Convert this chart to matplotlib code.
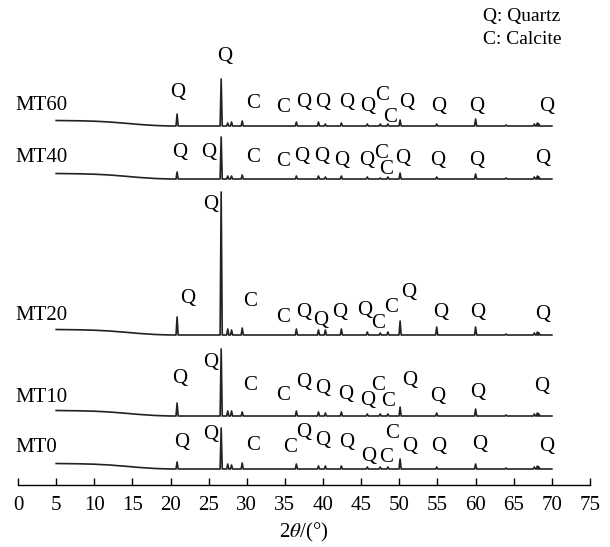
import numpy as np
import matplotlib
matplotlib.use('Agg')
import matplotlib.pyplot as plt

plt.rcParams['font.family'] = ['Liberation Serif', 'DejaVu Serif']
plt.rcParams['mathtext.fontset'] = 'stix'

samples = ['MT0', 'MT10', 'MT20', 'MT40', 'MT60']
offsets = [16, 69, 150, 306, 359]

# peak positions (2theta, deg) and heights
peak_pos = [20.86, 26.64, 27.5, 28.0, 29.4, 36.5, 39.4, 40.3, 42.4, 45.8,
            47.5, 48.5, 50.1, 54.9, 60.0, 64.0, 67.7, 68.1, 68.3]
heights = {
    'MT0':  [7, 41, 5, 4, 6, 5, 3, 3, 3, 2, 2, 2, 10, 2, 5, 1, 2, 3, 2],
    'MT10': [13, 67, 5, 5, 4, 5, 4, 3, 4, 2, 2, 2, 9, 3, 7, 1, 2, 3, 2],
    'MT20': [18, 143, 6, 5, 7, 6, 5, 5, 6, 3, 2, 3, 14, 8, 8, 1, 2, 3, 2],
    'MT40': [7, 42, 3, 3, 4, 3, 3, 2, 3, 2, 1, 2, 6, 2, 5, 1, 2, 3, 2],
    'MT60': [12, 47, 3, 4, 5, 4, 4, 2, 3, 2, 2, 2, 6, 2, 7, 1, 2, 3, 2],
}
# amorphous background at low angle
bg_x = [5, 8, 10, 12, 14, 16, 18, 20]
bg_y = [5.5, 5.2, 4.8, 4.0, 2.8, 1.5, 0.5, 0]

# phase labels: (2theta position, height on chart, letter)
phase_labels = {
    'MT0': [(21.5, 43, 'Q'), (25.3, 50, 'Q'), (30.8, 40, 'C'), (35.7, 37, 'C'),
            (37.4, 52, 'Q'), (39.9, 45, 'Q'), (43.1, 43, 'Q'), (46.0, 29, 'Q'),
            (48.2, 28, 'C'), (49.0, 52, 'C'), (51.4, 39, 'Q'), (55.2, 39, 'Q'),
            (60.5, 41, 'Q'), (69.3, 39, 'Q')],
    'MT10': [(21.2, 107, 'Q'), (25.2, 123, 'Q'), (30.4, 100, 'C'), (34.8, 89, 'C'),
             (37.4, 102, 'Q'), (40.0, 97, 'Q'), (43.0, 90, 'Q'), (45.8, 85, 'Q'),
             (47.2, 100, 'C'), (48.5, 84, 'C'), (51.4, 105, 'Q'), (55.0, 89, 'Q'),
             (60.3, 92, 'Q'), (68.7, 99, 'Q')],
    'MT20': [(22.2, 187, 'Q'), (25.2, 280, 'Q'), (30.4, 183, 'C'), (34.7, 167, 'C'),
             (37.5, 173, 'Q'), (39.7, 165, 'Q'), (42.2, 173, 'Q'), (45.5, 175, 'Q'),
             (47.2, 162, 'C'), (48.9, 178, 'C'), (51.2, 193, 'Q'), (55.4, 172, 'Q'),
             (60.3, 172, 'Q'), (68.8, 170, 'Q')],
    'MT40': [(21.2, 332, 'Q'), (25.0, 332, 'Q'), (30.8, 327, 'C'), (34.7, 324, 'C'),
             (37.2, 328, 'Q'), (39.8, 328, 'Q'), (42.5, 325, 'Q'), (45.7, 325, 'Q'),
             (47.6, 332, 'C'), (48.3, 315, 'C'), (50.5, 327, 'Q'), (55.0, 325, 'Q'),
             (60.2, 325, 'Q'), (68.8, 327, 'Q')],
    'MT60': [(21.0, 393, 'Q'), (27.1, 429, 'Q'), (30.8, 382, 'C'), (34.7, 378, 'C'),
             (37.5, 382, 'Q'), (40.0, 382, 'Q'), (43.1, 382, 'Q'), (45.8, 379, 'Q'),
             (47.8, 390, 'C'), (48.8, 368, 'C'), (51.0, 382, 'Q'), (55.1, 379, 'Q'),
             (60.2, 379, 'Q'), (69.3, 379, 'Q')],
}
name_y = {'MT0': 38, 'MT10': 88, 'MT20': 170, 'MT40': 327, 'MT60': 379}

fig = plt.figure(figsize=(6.1, 5.47), dpi=100)
ax = fig.add_axes([18 / 610, 62 / 547, 572 / 610, 485 / 547])

w = 0.14
for name, off in zip(samples, offsets):
    xs = list(bg_x)
    ys = list(bg_y)
    for p, h in zip(peak_pos, heights[name]):
        xs += [p - w, p, p + w]
        ys += [0, h, 0]
    xs.append(70)
    ys.append(0)
    ax.plot(xs, np.array(ys) + off, color='#222222', lw=1.2)
    for x, y, s in phase_labels[name]:
        ax.text(x, y, s, ha='center', va='center', fontsize=15)
    ax.text(-0.4, name_y[name], name, ha='left', va='center', fontsize=15)

fig.text(483 / 610, 1 - 16 / 547, 'Q: Quartz', ha='left', va='center', fontsize=14)
fig.text(483 / 610, 1 - 40 / 547, 'C: Calcite', ha='left', va='center', fontsize=14)

ax.set_xlim(0, 75)
ax.set_ylim(0, 485)
ax.set_xticks(np.arange(0, 76, 5))
ax.tick_params(axis='x', direction='in', length=5, width=1, labelsize=15, pad=8)
ax.set_yticks([])
for s in ['left', 'right', 'top']:
    ax.spines[s].set_visible(False)
ax.spines['bottom'].set_linewidth(1)
ax.set_xlabel(r'2$\theta$/(°)', fontsize=15, labelpad=4)

fig.savefig('out.png', dpi=100)
